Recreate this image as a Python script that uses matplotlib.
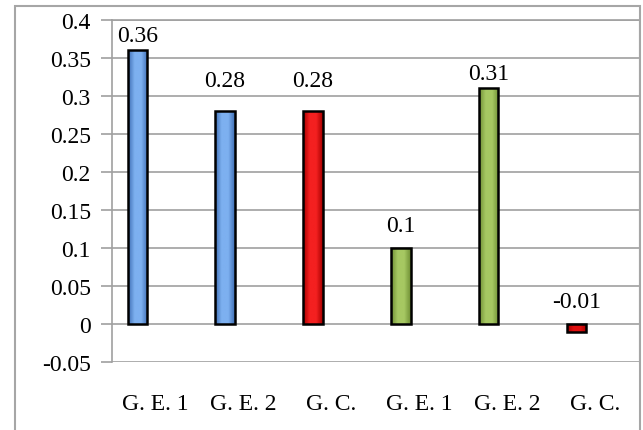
import matplotlib
matplotlib.use("Agg")
import matplotlib.pyplot as plt
import numpy as np
from matplotlib.patches import Rectangle
import matplotlib.colors as mcolors

categories = ["G. E. 1", "G. E. 2", "G. C.", "G. E. 1", "G. E. 2", "G. C."]
values = [0.36, 0.28, 0.28, 0.10, 0.31, -0.01]
labels = ["0.36", "0.28", "0.28", "0.1", "0.31", "-0.01"]
# (edge shade, centre shade) for the bevelled fill
bar_shades = [("#3f6fb4", "#7db0f0"), ("#3f6fb4", "#7db0f0"), ("#a80000", "#f42020"),
              ("#6f8f34", "#a6c862"), ("#6f8f34", "#a6c862"), ("#a80000", "#e01010")]
# label lift above each bar, in points
label_lift = [3, 14, 14, 9, 3, 8.5]
yticks = [-0.05, 0, 0.05, 0.1, 0.15, 0.2, 0.25, 0.3, 0.35, 0.4]
ytick_labels = ["-0.05", "0", "0.05", "0.1", "0.15", "0.2", "0.25", "0.3", "0.35", "0.4"]

plt.rcParams["font.family"] = ["Liberation Serif", "DejaVu Serif"]
fs = 17

fig = plt.figure(figsize=(6.43, 4.31), dpi=100)
ax = fig.add_axes([0.1737, 0.157, 0.8201, 0.7954])

# outer chart frame, runs off the bottom edge
fig.patches.append(Rectangle((0.0233, -0.05), 0.9717, 1.034, transform=fig.transFigure,
                             fill=False, edgecolor="#a6a6a6", linewidth=1.5))

x = list(range(len(categories)))
bar_x = [i - 0.21 for i in x]
bars = ax.bar(bar_x, values, width=0.22, color="none", edgecolor="black", linewidth=1.8, zorder=4)

# horizontal gradient fill inside each bar
for patch, (edge_c, mid_c) in zip(bars.patches, bar_shades):
    cmap = mcolors.LinearSegmentedColormap.from_list("bev", [edge_c, mid_c, mid_c, edge_c])
    grad = np.linspace(0, 1, 64).reshape(1, -1)
    x0, y0 = patch.get_x(), patch.get_y()
    w, h = patch.get_width(), patch.get_height()
    im = ax.imshow(grad, cmap=cmap, aspect="auto", zorder=3,
                   extent=[x0, x0 + w, min(y0, y0 + h), max(y0, y0 + h)])
    im.set_clip_path(patch)

for bx, v, lab, lift in zip(bar_x, values, labels, label_lift):
    ax.annotate(lab, (bx, max(v, 0)), xytext=(0, lift), textcoords="offset points",
                ha="center", va="bottom", fontsize=fs)

ax.set_xlim(-0.5, 5.5)
ax.set_ylim(-0.05, 0.4)
ax.set_yticks(yticks)
ax.set_yticklabels(ytick_labels, fontsize=fs)
ax.set_xticks(x)
ax.set_xticklabels(categories, fontsize=fs)

ax.yaxis.grid(True, color="#a0a0a0", linewidth=1.2, zorder=0)
ax.set_axisbelow(True)
ax.tick_params(axis="y", length=8, width=1.2, color="#a0a0a0", pad=7)
ax.tick_params(axis="x", length=0, pad=22)

ax.spines["bottom"].set_visible(False)
for side in ["left", "top"]:
    ax.spines[side].set_color("#a0a0a0")
    ax.spines[side].set_linewidth(1.2)
ax.spines["right"].set_color("#c8c8c8")

fig.savefig("out.png", dpi=100)
